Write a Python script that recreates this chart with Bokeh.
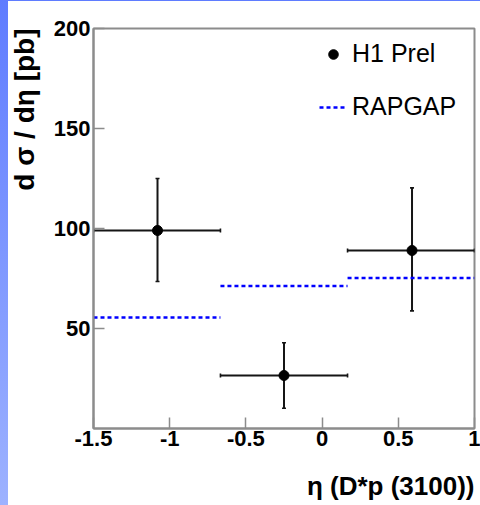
from bokeh.plotting import figure
from bokeh.models import (Range1d, FixedTicker, Whisker, TeeHead, ColumnDataSource,
                          Legend, LegendItem, CustomJSTickFormatter, Title)
from bokeh.embed import file_html
from bokeh.resources import INLINE

# ---- data ----
bin_lo = [-1.5, -0.667, 0.167]
bin_hi = [-0.667, 0.167, 1.0]
x_center = [-1.08, -0.25, 0.59]
h1_y = [99.0, 26.5, 89.0]
h1_up = [125.0, 42.9, 120.3]
h1_dn = [73.5, 10.1, 58.8]
rapgap_y = [55.5, 71.2, 75.2]
x_ticks = [-1.5, -1.0, -0.5, 0.0, 0.5, 1.0]
y_ticks = [50, 100, 150, 200]

FONT = "Liberation Sans"
GRAY = "#8c8c8c"
ERR = "#151515"

p = figure(width=480, height=505, output_backend="svg", toolbar_location=None,
           x_range=Range1d(-1.5, 1.0), y_range=Range1d(0, 200),
           min_border_left=93, min_border_right=6, min_border_top=28, min_border_bottom=77)
p.background_fill_color = "white"
p.border_fill_alpha = 0
p.styles = {"background": "linear-gradient(to bottom, #5f7cff 0px, #5f7cff 1px, transparent 1px), "
                          "linear-gradient(to bottom, #5f7cff, #9db2ff) 0 0 / 8px 100% no-repeat, #ffffff"}
p.outline_line_color = GRAY
p.outline_line_width = 2
p.xgrid.visible = False
p.ygrid.visible = False

for ax in (p.xaxis[0], p.yaxis[0]):
    ax.axis_line_color = GRAY
    ax.axis_line_width = 2
    ax.major_tick_line_color = GRAY
    ax.major_tick_line_width = 1.5
    ax.major_tick_in = 11
    ax.major_tick_out = 0
    ax.minor_tick_line_color = None
    ax.major_label_text_font = FONT
    ax.major_label_text_font_style = "bold"
    ax.major_label_text_font_size = "22px"
    ax.major_label_text_color = "black"

p.xaxis.ticker = FixedTicker(ticks=x_ticks)
p.yaxis.ticker = FixedTicker(ticks=y_ticks)
p.xaxis.formatter = CustomJSTickFormatter(code="return String(tick);")
p.xaxis.major_label_standoff = 2
p.yaxis.major_label_standoff = 3

src = ColumnDataSource(dict(x=x_center, y=h1_y, up=h1_up, dn=h1_dn, lo=bin_lo, hi=bin_hi))
rsrc = ColumnDataSource(dict(x0=bin_lo, x1=bin_hi, y=rapgap_y))

rap = p.segment(x0="x0", x1="x1", y0="y", y1="y", source=rsrc,
                line_color="#0000ff", line_width=2.5, line_dash="4 3")

p.add_layout(Whisker(source=src, base="x", upper="up", lower="dn", dimension="height",
                     line_color=ERR, line_width=2,
                     upper_head=TeeHead(size=4, line_color=ERR, line_width=1.6),
                     lower_head=TeeHead(size=4, line_color=ERR, line_width=1.6)))
p.add_layout(Whisker(source=src, base="y", upper="hi", lower="lo", dimension="width",
                     line_color=ERR, line_width=2,
                     upper_head=TeeHead(size=4, line_color=ERR, line_width=1.6),
                     lower_head=TeeHead(size=4, line_color=ERR, line_width=1.6)))

pts = p.scatter(x="x", y="y", source=src, size=10, marker="circle",
                fill_color="black", line_color="black")

legend = Legend(items=[LegendItem(label="H1 Prel", renderers=[pts]),
                       LegendItem(label="RAPGAP", renderers=[rap])],
                location=(226, 307), orientation="vertical",
                label_text_font=FONT, label_text_font_size="25px", label_text_color="black",
                glyph_width=28, glyph_height=24, label_height=24, spacing=24,
                label_standoff=5, padding=0, margin=0,
                border_line_color=None, background_fill_alpha=0)
p.add_layout(legend)

# spacing panels, then the axis titles aligned to the top / right ends
p.add_layout(Title(text=" ", text_font_size="1px", standoff=8), "left")
p.add_layout(Title(text="d σ / dη [pb]", align="right", text_font=FONT,
                   text_font_style="bold", text_font_size="28px", text_color="black",
                   standoff=0), "left")
p.add_layout(Title(text=" ", text_font_size="1px", standoff=17), "below")
p.add_layout(Title(text="η (D*p (3100))", align="right", text_font=FONT,
                   text_font_style="bold", text_font_size="26px", text_color="black",
                   standoff=0), "below")

open("out.html", "w").write(file_html(p, INLINE))
